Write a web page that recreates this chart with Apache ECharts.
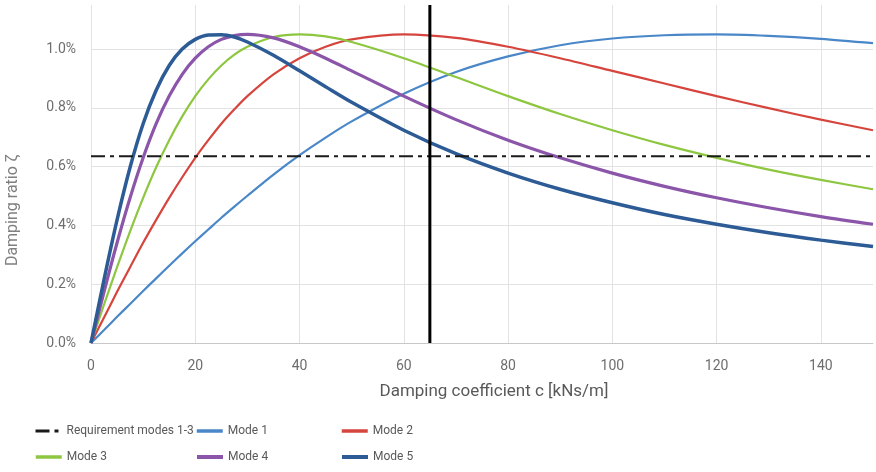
<!DOCTYPE html>
<html>
<head>
<meta charset="utf-8">
<script src="https://cdn.jsdelivr.net/npm/echarts@6/dist/echarts.min.js"></script>
<style>html,body{margin:0;padding:0;background:#fff}#c{width:876px;height:472px}</style>
</head>
<body>
<div id="c"></div>
<script>
// Damping coefficient c [kNs/m]
var cValues = [0, 2.5, 5, 7.5, 10, 12.5, 15, 17.5, 20, 22.5, 25, 27.5, 30, 35, 40, 45, 50, 60, 70, 80, 90, 100, 110, 120, 130, 140, 150];
// Damping ratio in %
var mode1 = [0, 0.044, 0.089, 0.133, 0.177, 0.220, 0.263, 0.305, 0.346, 0.386, 0.426, 0.464, 0.501, 0.573, 0.639, 0.699, 0.754, 0.848, 0.922, 0.975, 1.013, 1.036, 1.047, 1.050, 1.045, 1.035, 1.020];
var mode2 = [0, 0.087, 0.174, 0.258, 0.341, 0.419, 0.494, 0.564, 0.630, 0.690, 0.746, 0.795, 0.840, 0.914, 0.969, 1.008, 1.033, 1.050, 1.038, 1.008, 0.969, 0.926, 0.883, 0.840, 0.799, 0.760, 0.724];
var mode3 = [0, 0.131, 0.258, 0.380, 0.494, 0.598, 0.690, 0.771, 0.840, 0.897, 0.944, 0.981, 1.008, 1.041, 1.050, 1.043, 1.024, 0.969, 0.905, 0.840, 0.779, 0.724, 0.674, 0.630, 0.590, 0.555, 0.523];
var mode4 = [0, 0.174, 0.341, 0.494, 0.630, 0.746, 0.840, 0.914, 0.969, 1.008, 1.033, 1.046, 1.050, 1.038, 1.008, 0.969, 0.926, 0.840, 0.760, 0.690, 0.630, 0.578, 0.533, 0.494, 0.460, 0.430, 0.404];
var mode5 = [0, 0.216, 0.419, 0.598, 0.746, 0.860, 0.944, 1.000, 1.033, 1.048, 1.049, 1.041, 1.024, 0.979, 0.926, 0.872, 0.819, 0.724, 0.644, 0.578, 0.523, 0.477, 0.437, 0.404, 0.375, 0.350, 0.328];
var requirement = 0.635;      // requirement modes 1-3, %
var chosenC = 65;              // selected damping coefficient
var xTicks = [0, 20, 40, 60, 80, 100, 120, 140];
var yTicks = [0.0, 0.2, 0.4, 0.6, 0.8, 1.0];
var seriesNames = ['Requirement modes 1-3', 'Mode 1', 'Mode 2', 'Mode 3', 'Mode 4', 'Mode 5'];

function pairs(ys) { return cValues.map(function (c, i) { return [c, ys[i]]; }); }

var colors = ['#1a1a1a', '#4a87c9', '#d6453d', '#8dc63f', '#8b56a9', '#2c5b95'];
var widths = [2, 2.2, 2.2, 2.2, 3.2, 3.5];
var legendWidths = [3, 3.5, 3.5, 3.5, 4, 4];
var modeData = [mode1, mode2, mode3, mode4, mode5];

var series = [];
series.push({
  name: seriesNames[0], type: 'line', symbol: 'none', silent: true,
  data: [[0, requirement], [150, requirement]],
  lineStyle: { color: colors[0], width: widths[0], type: [14, 5, 4, 5] },
  itemStyle: { color: colors[0] }, z: 3
});
modeData.forEach(function (d, i) {
  series.push({
    name: seriesNames[i + 1], type: 'line', symbol: 'none', smooth: 0.3, silent: true,
    data: pairs(d),
    lineStyle: { color: colors[i + 1], width: widths[i + 1] },
    itemStyle: { color: colors[i + 1] }, z: 2
  });
});
series.push({
  name: 'c', type: 'line', symbol: 'none', silent: true,
  data: [[chosenC, 0], [chosenC, 1.15]],
  lineStyle: { color: '#000', width: 3 }, z: 4
});

var legendFont = { fontFamily: 'Roboto, sans-serif', fontSize: 12, color: '#595959' };
var legendPos = [[34, 425], [195, 425], [340, 425], [34, 451], [195, 451], [340, 451]];
var legends = seriesNames.map(function (n, i) {
  return {
    data: [n], left: legendPos[i][0], top: legendPos[i][1], itemWidth: 26, itemHeight: 14, itemGap: 4,
    textStyle: legendFont, selectedMode: false, padding: 0,
    itemStyle: { opacity: 0 },
    lineStyle: { width: legendWidths[i] }
  };
});

var chart = echarts.init(document.getElementById('c'), null, { renderer: 'canvas' });
chart.setOption({
  animation: false,
  backgroundColor: '#fff',
  grid: { left: 91, right: 3, top: 5, bottom: 129, containLabel: false, outerBoundsMode: 'none' },
  legend: legends,
  xAxis: {
    type: 'value', min: 0, max: 150, interval: 20,
    name: 'Damping coefficient c [kNs/m]', nameLocation: 'middle', nameGap: 40,
    nameTextStyle: { fontFamily: 'Roboto, sans-serif', fontSize: 17, color: '#595959', padding: [0, 0, 0, 24] },
    axisLine: { show: true, lineStyle: { color: '#c8c8c8', width: 1 } },
    axisTick: { show: false },
    axisLabel: { margin: 16, fontFamily: 'Roboto, sans-serif', fontSize: 14, color: '#6e6e6e', showMaxLabel: false,
      formatter: function (v) { return xTicks.indexOf(v) >= 0 ? String(v) : ''; } },
    splitLine: { show: true, showMaxLine: false, lineStyle: { color: '#e3e3e3', width: 1 } }
  },
  yAxis: {
    type: 'value', min: 0, max: 1.15, interval: 0.2,
    name: 'Damping ratio ζ', nameLocation: 'middle', nameGap: 70,
    nameTextStyle: { fontFamily: 'Roboto, sans-serif', fontSize: 16, color: '#808080', padding: [0, 72, 0, 0] },
    axisLine: { show: false },
    axisTick: { show: false },
    axisLabel: { margin: 15, fontFamily: 'Roboto, sans-serif', fontSize: 14, color: '#6e6e6e', showMaxLabel: false,
      formatter: function (v) {
        for (var i = 0; i < yTicks.length; i++) { if (Math.abs(yTicks[i] - v) < 1e-6) return yTicks[i].toFixed(1) + '%'; }
        return '';
      } },
    splitLine: { show: true, showMaxLine: false, lineStyle: { color: '#e3e3e3', width: 1 } }
  },
  series: series
});
</script>
</body>
</html>
